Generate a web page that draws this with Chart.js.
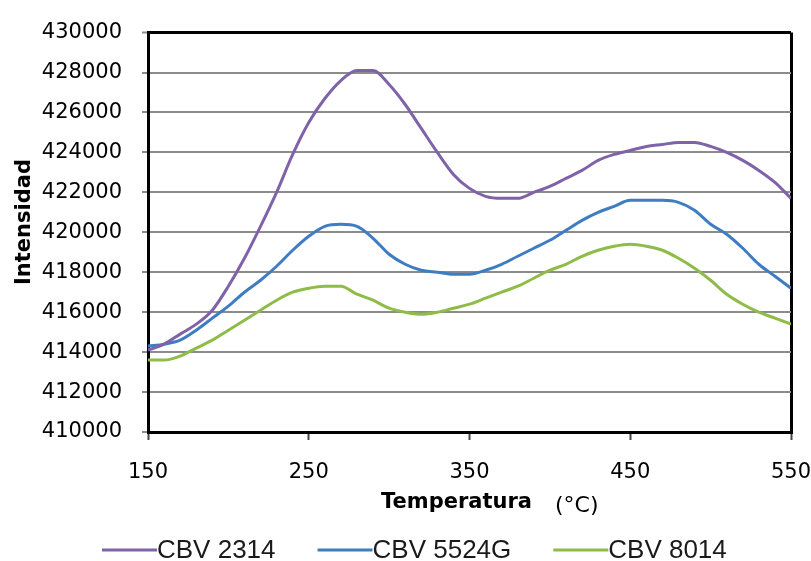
<!DOCTYPE html>
<html>
<head>
<meta charset="utf-8">
<script src="https://cdn.jsdelivr.net/npm/chart.js@4.4.1/dist/chart.umd.min.js"></script>
<style>
  html, body { margin: 0; padding: 0; background: #ffffff; }
  #wrap { width: 811px; height: 561px; }
</style>
</head>
<body>
<div id="wrap"><canvas id="intensidadChart" width="811" height="561"></canvas></div>
<script>
// Temperatura (°C) cada 10 grados
const temperaturas = [150, 160, 170, 180, 190, 200, 210, 220, 230, 240,
                      250, 260, 270, 280, 290, 300, 310, 320, 330, 340,
                      350, 360, 370, 380, 390, 400, 410, 420, 430, 440,
                      450, 460, 470, 480, 490, 500, 510, 520, 530, 540, 550];

const cbv2314 = [414100, 414400, 414900, 415400, 416100, 417300, 418700, 420300, 422000, 423900,
                 425500, 426700, 427600, 428100, 428100, 427400, 426400, 425200, 424000, 422900,
                 422200, 421800, 421700, 421700, 422000, 422300, 422700, 423100, 423600, 423900,
                 424100, 424300, 424400, 424500, 424500, 424300, 424000, 423600, 423100, 422500, 421700];

const cbv5524g = [414300, 414400, 414600, 415100, 415700, 416300, 417000, 417600, 418300, 419100,
                  419800, 420300, 420400, 420300, 419700, 418900, 418400, 418100, 418000, 417900,
                  417900, 418100, 418400, 418800, 419200, 419600, 420100, 420600, 421000, 421300,
                  421600, 421600, 421600, 421500, 421100, 420400, 419900, 419200, 418400, 417800, 417200];

const cbv8014 = [413600, 413600, 413800, 414200, 414600, 415100, 415600, 416100, 416600, 417000,
                 417200, 417300, 417300, 416900, 416600, 416200, 416000, 415900, 416000, 416200,
                 416400, 416700, 417000, 417300, 417700, 418100, 418400, 418800, 419100, 419300,
                 419400, 419300, 419100, 418700, 418200, 417600, 416900, 416400, 416000, 415700, 415400];

const nombresSeries = ['CBV 2314', 'CBV 5524G', 'CBV 8014'];
const coloresSeries = ['#7f62a8', '#3f7dc3', '#8fbc48'];

// Eje Y: 410000 a 430000 cada 2000; eje X: 150 a 550 cada 100
const yMin = 410000, yMax = 430000, yPaso = 2000;
const xMin = 150, xMax = 550, xPaso = 100;

function puntos(valores) {
  return temperaturas.map((t, i) => ({ x: t, y: valores[i] }));
}

const fuenteEjes = '"DejaVu Sans", sans-serif';

// Títulos de ejes y leyenda inferior
const extrasPlugin = {
  id: 'extras',
  afterDraw(chart) {
    const ctx = chart.ctx;
    ctx.save();
    ctx.textBaseline = 'alphabetic';
    ctx.fillStyle = '#000';
    ctx.font = 'bold 21px ' + fuenteEjes;
    ctx.textAlign = 'left';
    ctx.fillText('Temperatura', 381, 508);
    ctx.font = '22px ' + fuenteEjes;
    ctx.fillText('(°C)', 555, 512);

    // Eje Y rotado
    ctx.save();
    ctx.translate(30, 222);
    ctx.rotate(-Math.PI / 2);
    ctx.textAlign = 'center';
    ctx.font = 'bold 21px ' + fuenteEjes;
    ctx.fillText('Intensidad', 0, 0);
    ctx.restore();

    // Leyenda
    let x = 102;
    const y = 550;
    ctx.font = '26px "Liberation Sans", Arial, sans-serif';
    ctx.textAlign = 'left';
    ctx.textBaseline = 'middle';
    chart.data.datasets.forEach((ds) => {
      ctx.strokeStyle = ds.borderColor;
      ctx.lineWidth = 3;
      ctx.beginPath();
      ctx.moveTo(x, y);
      ctx.lineTo(x + 55, y);
      ctx.stroke();
      x += 55;
      ctx.fillStyle = '#1a1a1a';
      ctx.fillText(ds.label, x, y + 1);
      x += ctx.measureText(ds.label).width + 42;
    });
    ctx.restore();
  }
};

const ctxGrafica = document.getElementById('intensidadChart').getContext('2d');
const intensidadChart = new Chart(ctxGrafica, {
  type: 'line',
  data: {
    datasets: [
      { label: nombresSeries[0], data: puntos(cbv2314), borderColor: coloresSeries[0] },
      { label: nombresSeries[1], data: puntos(cbv5524g), borderColor: coloresSeries[1] },
      { label: nombresSeries[2], data: puntos(cbv8014), borderColor: coloresSeries[2] }
    ]
  },
  options: {
    responsive: false,
    animation: false,
    devicePixelRatio: 1,
    layout: { padding: { top: 25, right: 2, left: 0, bottom: 0 } },
    elements: {
      line: { borderWidth: 3, tension: 0.35, cubicInterpolationMode: 'monotone' },
      point: { radius: 0 }
    },
    plugins: {
      legend: { display: false },
      tooltip: { enabled: false }
    },
    scales: {
      x: {
        type: 'linear',
        min: xMin,
        max: xMax,
        afterFit: (scale) => {
          scale.height = 129;
          scale.paddingLeft = 0;
          scale.paddingRight = 20;
        },
        ticks: {
          stepSize: xPaso,
          padding: 20,
          color: '#000',
          font: { family: fuenteEjes, size: 21 },
          maxRotation: 0,
          callback: (v) => String(v)
        },
        grid: {
          drawOnChartArea: true,
          color: (c) => (c.tick && c.tick.value === xMax ? '#000' : 'rgba(0,0,0,0)'),
          lineWidth: 3,
          tickLength: 8,
          tickColor: '#444',
          tickWidth: 2
        },
        border: { color: '#000', width: 3 }
      },
      y: {
        min: yMin,
        max: yMax,
        afterFit: (scale) => { scale.width = 148; },
        ticks: {
          stepSize: yPaso,
          padding: 20,
          color: '#000',
          font: { family: fuenteEjes, size: 21 },
          callback: (v) => String(v)
        },
        grid: {
          color: (c) => (c.tick && c.tick.value === yMax ? '#000' : '#8c8c8c'),
          lineWidth: (c) => (c.tick && c.tick.value === yMax ? 3 : 2),
          tickLength: 6,
          tickColor: '#8c8c8c',
          tickWidth: 2
        },
        border: { color: '#000', width: 3 }
      }
    }
  },
  plugins: [extrasPlugin]
});
</script>
</body>
</html>
